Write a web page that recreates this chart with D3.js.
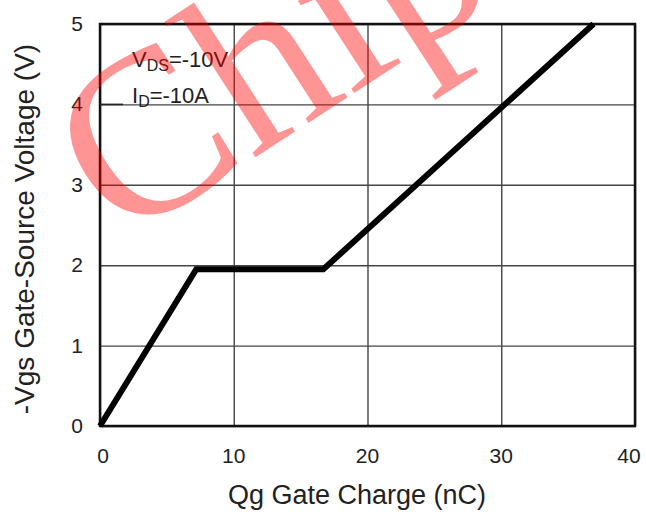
<!DOCTYPE html>
<html lang="en">
<head>
    <meta charset="UTF-8">
    <title>Gate Charge</title>
    <script src="https://d3js.org/d3.v7.min.js"></script>
    <style>
        body { margin: 0; background: #fff; }
        text { font-family: "Liberation Sans", Arial, sans-serif; fill: #222; }
        .grid line { stroke: #444; stroke-width: 1.4px; }
        .grid path { display: none; }
        .tick-label { font-size: 21px; }
    </style>
</head>
<body>
    <script>
        // curve data
        const qg = [0, 7.2, 16.7, 36.9];
        const vgs = [0, 1.95, 1.95, 5];
        const xTicks = [0, 10, 20, 30, 40];
        const yTicks = [0, 1, 2, 3, 4, 5];

        const width = 646, height = 516;
        const plotLeft = 100, plotRight = 635, plotTop = 24, plotBottom = 426;

        const svg = d3.select("body").append("svg")
            .attr("width", width)
            .attr("height", height);

        const x = d3.scaleLinear().domain([0, 40]).range([plotLeft, plotRight]);
        const y = d3.scaleLinear().domain([0, 5]).range([plotBottom, plotTop]);

        // grid
        svg.append("g")
            .attr("class", "grid")
            .attr("transform", `translate(0,${plotBottom})`)
            .call(d3.axisBottom(x).tickValues(xTicks).tickSize(-(plotBottom - plotTop)).tickFormat(""));
        svg.append("g")
            .attr("class", "grid")
            .attr("transform", `translate(${plotLeft},0)`)
            .call(d3.axisLeft(y).tickValues(yTicks).tickSize(-(plotRight - plotLeft)).tickFormat(""));

        // frame
        svg.append("rect")
            .attr("x", plotLeft).attr("y", plotTop)
            .attr("width", plotRight - plotLeft).attr("height", plotBottom - plotTop)
            .attr("fill", "none")
            .attr("stroke", "#111")
            .attr("stroke-width", 2.5);

        // tick labels
        svg.append("g").selectAll("text")
            .data(xTicks)
            .enter().append("text")
            .attr("class", "tick-label")
            .attr("x", d => x(d) + (d === 40 ? -6 : d === 0 ? 3 : 0))
            .attr("y", 463)
            .attr("text-anchor", "middle")
            .text(d => d);

        svg.append("g").selectAll("text")
            .data(yTicks)
            .enter().append("text")
            .attr("class", "tick-label")
            .attr("x", 83)
            .attr("y", d => y(d) + 7)
            .attr("text-anchor", "end")
            .text(d => d);

        // axis titles
        svg.append("text")
            .attr("x", 357)
            .attr("y", 504)
            .attr("text-anchor", "middle")
            .style("font-size", "27px")
            .text("Qg Gate Charge (nC)");

        svg.append("text")
            .attr("transform", "translate(34,229) rotate(-90)")
            .attr("text-anchor", "middle")
            .style("font-size", "28px")
            .text("-Vgs Gate-Source Voltage (V)");

        // conditions
        const note1 = svg.append("text").attr("x", 132).attr("y", 67).style("font-size", "22px");
        note1.append("tspan").text("V");
        note1.append("tspan").attr("dy", 4).style("font-size", "16px").text("DS");
        note1.append("tspan").attr("dy", -4).text("=-10V");

        const note2 = svg.append("text").attr("x", 132).attr("y", 103).style("font-size", "22px");
        note2.append("tspan").text("I");
        note2.append("tspan").attr("dy", 4).style("font-size", "16px").text("D");
        note2.append("tspan").attr("dy", -4).text("=-10A");

        svg.append("line")
            .attr("x1", plotLeft).attr("x2", 123)
            .attr("y1", y(4)).attr("y2", y(4))
            .attr("stroke", "#222")
            .attr("stroke-width", 1.6);

        // curve
        const line = d3.line()
            .x((d, i) => x(qg[i]))
            .y((d, i) => y(vgs[i]));

        svg.append("path")
            .datum(qg)
            .attr("d", line)
            .attr("fill", "none")
            .attr("stroke", "#000")
            .attr("stroke-width", 6)
            .attr("stroke-linejoin", "miter");

        // watermark
        svg.append("text")
            .attr("transform", "translate(120,245) rotate(-33)")
            .style("font-family", "'Liberation Serif', 'Times New Roman', serif")
            .style("font-size", "235px")
            .style("fill", "#ff0000")
            .style("fill-opacity", 0.42)
            .text("Chip");
    </script>
</body>
</html>
